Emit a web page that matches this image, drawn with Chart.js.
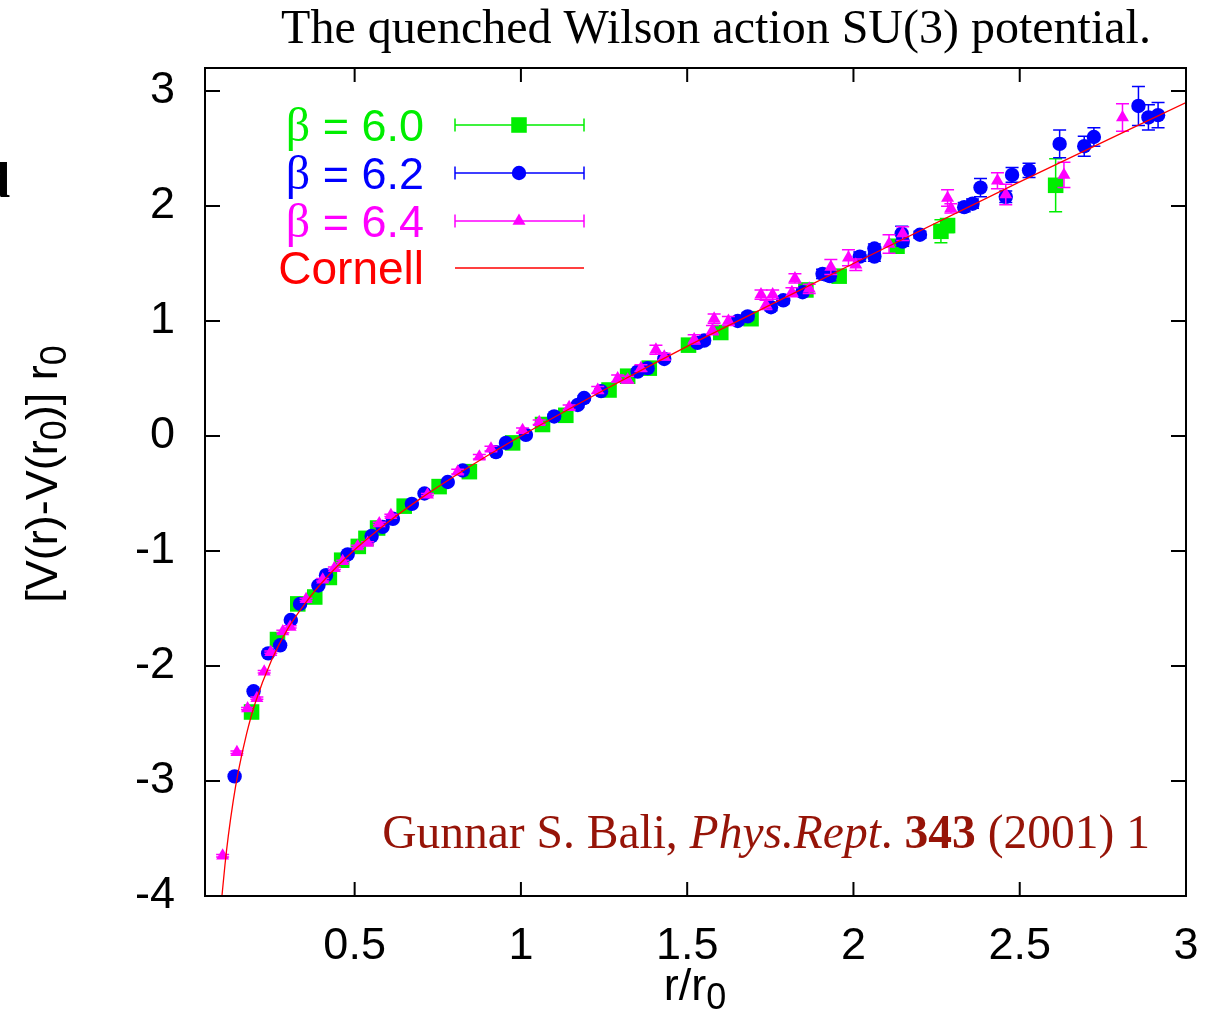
<!DOCTYPE html>
<html>
<head>
<meta charset="utf-8">
<title>Quenched Wilson action SU(3) potential</title>
<script src="https://cdn.jsdelivr.net/npm/chart.js@4.4.1/dist/chart.umd.min.js"></script>
<style>
    html, body { margin: 0; padding: 0; background: #fff; }
    #potentialChart { display: block; }
</style>
</head>
<body>
<canvas id="potentialChart" width="1206" height="1018"></canvas>
<script>
/* ================================
   STATIC POTENTIAL PLOT
   ================================ */

// Axis ticks
const xTicks = [0.5, 1, 1.5, 2, 2.5, 3];
const yTicks = [-4, -3, -2, -1, 0, 1, 2, 3];

// beta = 6.0 (squares)
const beta60R = [0.190, 0.268, 0.329, 0.380, 0.424, 0.461, 0.511, 0.534, 0.569, 0.649, 0.754, 0.845, 0.975,
    1.065, 1.135, 1.265, 1.321, 1.386, 1.504, 1.601, 1.692, 1.857, 1.957, 2.131, 2.263, 2.283, 2.608];
const beta60V = [-2.40, -1.77, -1.46, -1.40, -1.23, -1.08, -0.96, -0.89, -0.80, -0.61, -0.44, -0.31, -0.06,
    0.10, 0.18, 0.40, 0.52, 0.59, 0.79, 0.90, 1.02, 1.27, 1.39, 1.65, 1.78, 1.83, 2.18];
const beta60Err = [0.01, 0.01, 0.01, 0.01, 0.01, 0.01, 0.01, 0.01, 0.01, 0.01, 0.01, 0.01, 0.01,
    0.01, 0.02, 0.02, 0.02, 0.02, 0.03, 0.03, 0.03, 0.04, 0.04, 0.05, 0.10, 0.06, 0.23];

// beta = 6.2 (circles)
const beta62R = [0.139, 0.196, 0.240, 0.276, 0.308, 0.336, 0.391, 0.414, 0.479, 0.551, 0.584, 0.615, 0.672,
    0.710, 0.780, 0.825, 0.925, 0.955, 1.015, 1.100, 1.171, 1.190, 1.241, 1.351, 1.381, 1.431, 1.531,
    1.551, 1.652, 1.682, 1.752, 1.789, 1.847, 1.907, 1.929, 2.019, 2.063, 2.063, 2.145, 2.148, 2.200,
    2.333, 2.358, 2.382, 2.458, 2.477, 2.528, 2.620, 2.694, 2.723, 2.857, 2.887, 2.916];
const beta62V = [-2.96, -2.22, -1.89, -1.82, -1.60, -1.46, -1.30, -1.21, -1.03, -0.87, -0.79, -0.72, -0.59,
    -0.50, -0.40, -0.30, -0.14, -0.06, 0.01, 0.17, 0.27, 0.33, 0.39, 0.56, 0.59, 0.67, 0.81,
    0.83, 1.00, 1.04, 1.12, 1.18, 1.25, 1.41, 1.39, 1.56, 1.63, 1.56, 1.76, 1.69, 1.75,
    1.99, 2.02, 2.16, 2.08, 2.27, 2.31, 2.54, 2.52, 2.60, 2.87, 2.77, 2.79];
const beta62Err = [0.01, 0.01, 0.01, 0.01, 0.01, 0.01, 0.01, 0.01, 0.01, 0.01, 0.01, 0.01, 0.01,
    0.01, 0.01, 0.01, 0.01, 0.01, 0.01, 0.02, 0.02, 0.02, 0.02, 0.02, 0.02, 0.02, 0.03,
    0.03, 0.03, 0.03, 0.03, 0.03, 0.03, 0.04, 0.04, 0.04, 0.04, 0.04, 0.065, 0.04, 0.03,
    0.04, 0.04, 0.08, 0.05, 0.064, 0.062, 0.12, 0.087, 0.08, 0.17, 0.11, 0.11];

// beta = 6.4 (triangles)
const beta64R = [0.103, 0.146, 0.178, 0.206, 0.228, 0.248, 0.284, 0.306, 0.354, 0.404, 0.439, 0.464, 0.509,
    0.539, 0.574, 0.609, 0.719, 0.810, 0.875, 0.910, 1.005, 1.055, 1.145, 1.231, 1.291, 1.321, 1.361,
    1.406, 1.431, 1.521, 1.576, 1.581, 1.624, 1.722, 1.737, 1.757, 1.815, 1.824, 1.867, 1.932, 1.985,
    2.007, 2.107, 2.148, 2.283, 2.293, 2.433, 2.458, 2.633, 2.809];
const beta64V = [-3.65, -2.75, -2.37, -2.28, -2.05, -1.88, -1.70, -1.66, -1.42, -1.25, -1.15, -1.09, -0.96,
    -0.93, -0.76, -0.69, -0.51, -0.31, -0.18, -0.11, 0.05, 0.12, 0.25, 0.40, 0.50, 0.49, 0.59,
    0.75, 0.69, 0.84, 0.92, 1.02, 1.00, 1.23, 1.14, 1.23, 1.25, 1.37, 1.28, 1.47, 1.55,
    1.49, 1.67, 1.76, 2.07, 1.98, 2.22, 2.10, 2.27, 2.77];
const beta64Err = [0.01, 0.01, 0.01, 0.01, 0.01, 0.01, 0.01, 0.01, 0.01, 0.01, 0.01, 0.01, 0.01,
    0.01, 0.01, 0.01, 0.01, 0.02, 0.02, 0.02, 0.02, 0.02, 0.02, 0.03, 0.03, 0.03, 0.03,
    0.04, 0.03, 0.04, 0.04, 0.04, 0.04, 0.04, 0.04, 0.04, 0.04, 0.04, 0.04, 0.065, 0.07,
    0.05, 0.08, 0.06, 0.072, 0.04, 0.07, 0.09, 0.11, 0.12];

// Cornell fit curve
const cornellR = [0.10, 0.11, 0.12, 0.135, 0.15, 0.175, 0.20, 0.25, 0.30, 0.35, 0.40, 0.50, 0.60,
    0.70, 0.80, 0.90, 1.00, 1.25, 1.50, 1.75, 2.00, 2.50, 3.00];
const cornellV = [-4.03, -3.73, -3.48, -3.17, -2.92, -2.59, -2.33, -1.95, -1.67, -1.46, -1.28, -0.99, -0.75,
    -0.54, -0.35, -0.17, 0.00, 0.40, 0.78, 1.14, 1.50, 2.21, 2.90];

const legendLabels = ['6.0', '6.2', '6.4', 'Cornell'];

const SANS = '"Liberation Sans", Arial, Helvetica, sans-serif';
const SERIF = '"Liberation Serif", "Times New Roman", serif';
const GREEN = '#00ee00';
const BLUE = '#0000ff';
const MAGENTA = '#ff00ff';
const RED = '#ff0000';

function toPoints(xs, ys) {
    return xs.map((x, i) => ({ x: x, y: ys[i] }));
}

// Draw a run of text pieces with different fonts
function drawRich(ctx, parts, x, y, align) {
    let total = 0;
    parts.forEach(p => {
        ctx.font = p.font;
        p.w = ctx.measureText(p.text).width;
        total += p.w;
    });
    let cx = x;
    if (align === 'right') cx = x - total;
    if (align === 'center') cx = x - total / 2;
    ctx.textAlign = 'left';
    ctx.textBaseline = 'alphabetic';
    parts.forEach(p => {
        ctx.font = p.font;
        ctx.fillText(p.text, cx, y + (p.dy || 0));
        cx += p.w;
    });
}

// Vertical error bars under each dataset's markers
const errorBarPlugin = {
    id: 'errorBars',
    beforeDatasetDraw(chart, args) {
        const ds = chart.data.datasets[args.index];
        if (!ds.yErr) return;
        const { ctx, chartArea, scales: { x, y } } = chart;
        ctx.save();
        ctx.beginPath();
        ctx.rect(chartArea.left, chartArea.top, chartArea.right - chartArea.left, chartArea.bottom - chartArea.top);
        ctx.clip();
        ctx.strokeStyle = ds.borderColor;
        ctx.lineWidth = 1.5;
        ds.data.forEach((p, i) => {
            const px = x.getPixelForValue(p.x);
            const top = y.getPixelForValue(p.y + ds.yErr[i]);
            const bot = y.getPixelForValue(p.y - ds.yErr[i]);
            ctx.beginPath();
            ctx.moveTo(px, top); ctx.lineTo(px, bot);
            ctx.moveTo(px - 6.5, top); ctx.lineTo(px + 6.5, top);
            ctx.moveTo(px - 6.5, bot); ctx.lineTo(px + 6.5, bot);
            ctx.stroke();
        });
        ctx.restore();
    }
};

// Frame with inward ticks on all four sides
const framePlugin = {
    id: 'frame',
    afterDatasetsDraw(chart) {
        const { ctx, chartArea: a, scales: { x, y } } = chart;
        ctx.save();
        ctx.strokeStyle = '#000';
        ctx.lineWidth = 2;
        ctx.strokeRect(a.left, a.top, a.right - a.left, a.bottom - a.top);
        ctx.beginPath();
        xTicks.forEach(v => {
            const px = x.getPixelForValue(v);
            ctx.moveTo(px, a.bottom); ctx.lineTo(px, a.bottom - 14);
            ctx.moveTo(px, a.top); ctx.lineTo(px, a.top + 14);
        });
        yTicks.forEach(v => {
            const py = y.getPixelForValue(v);
            ctx.moveTo(a.left, py); ctx.lineTo(a.left + 15, py);
            ctx.moveTo(a.right, py); ctx.lineTo(a.right - 15, py);
        });
        ctx.stroke();
        ctx.restore();
    }
};

// Titles, key and citation
const textPlugin = {
    id: 'texts',
    afterDraw(chart) {
        const ctx = chart.ctx;
        ctx.save();

        // Title
        ctx.fillStyle = '#000';
        drawRich(ctx, [{ text: 'The quenched Wilson action SU(3) potential.', font: '48px ' + SERIF }], 716, 43, 'center');

        // Cut-off glyph at the left page edge
        drawRich(ctx, [{ text: 'd', font: 'bold 50px ' + SERIF }], 10, 197, 'right');

        // Axis titles
        drawRich(ctx, [
            { text: 'r/r', font: '45px ' + SANS },
            { text: '0', font: '36px ' + SANS, dy: 9 }
        ], 695, 1000, 'center');

        ctx.save();
        ctx.translate(57, 474);
        ctx.rotate(-Math.PI / 2);
        drawRich(ctx, [
            { text: '[V(r)-V(r', font: '45px ' + SANS },
            { text: '0', font: '36px ' + SANS, dy: 9 },
            { text: ')] r', font: '45px ' + SANS },
            { text: '0', font: '36px ' + SANS, dy: 9 }
        ], 0, 0, 'center');
        ctx.restore();

        // Key
        const rows = [125, 173, 221, 268];
        const colors = [GREEN, BLUE, MAGENTA, RED];
        const styles = ['rect', 'circle', 'triangle', null];
        const radii = [11, 7.2, 7.5, 0];
        const helpers = Chart.helpers;
        rows.forEach((ry, i) => {
            ctx.fillStyle = colors[i];
            ctx.strokeStyle = colors[i];
            if (styles[i]) {
                drawRich(ctx, [
                    { text: '\u03b2', font: '48px ' + SERIF },
                    { text: ' = ' + legendLabels[i], font: '45px ' + SANS }
                ], 424, ry + 16, 'right');
                ctx.lineWidth = 1.5;
                ctx.beginPath();
                ctx.moveTo(455, ry); ctx.lineTo(584, ry);
                ctx.moveTo(455, ry - 6.5); ctx.lineTo(455, ry + 6.5);
                ctx.moveTo(584, ry - 6.5); ctx.lineTo(584, ry + 6.5);
                ctx.stroke();
                helpers.drawPoint(ctx, { pointStyle: styles[i], radius: radii[i], borderWidth: 0, rotation: 0 }, 519, ry);
            } else {
                drawRich(ctx, [{ text: legendLabels[i], font: '46px ' + SANS }], 424, ry + 16, 'right');
                ctx.lineWidth = 1.3;
                ctx.beginPath();
                ctx.moveTo(455, ry); ctx.lineTo(584, ry);
                ctx.stroke();
            }
        });

        // Citation
        ctx.fillStyle = '#961408';
        drawRich(ctx, [
            { text: 'Gunnar S. Bali, ', font: '47.5px ' + SERIF },
            { text: 'Phys.Rept', font: 'italic 47.5px ' + SERIF },
            { text: '. ', font: '47.5px ' + SERIF },
            { text: '343', font: 'bold 47.5px ' + SERIF },
            { text: ' (2001) 1', font: '47.5px ' + SERIF }
        ], 1150, 848, 'right');

        ctx.restore();
    }
};

function markerSet(label, xs, ys, errs, color, style, radius, order) {
    return {
        label: label,
        data: toPoints(xs, ys),
        yErr: errs,
        pointStyle: style,
        pointRadius: radius,
        pointHoverRadius: radius,
        pointBorderWidth: 0,
        backgroundColor: color,
        borderColor: color,
        showLine: false,
        order: order
    };
}

document.addEventListener('DOMContentLoaded', function() {
    const ctx = document.getElementById('potentialChart');

    new Chart(ctx, {
        type: 'scatter',
        data: {
            datasets: [
                {
                    label: 'Cornell',
                    data: toPoints(cornellR, cornellV),
                    showLine: true,
                    borderColor: RED,
                    backgroundColor: RED,
                    borderWidth: 1.3,
                    pointRadius: 0,
                    pointHoverRadius: 0,
                    cubicInterpolationMode: 'monotone',
                    fill: false,
                    order: 0
                },
                markerSet('\u03b2 = 6.4', beta64R, beta64V, beta64Err, MAGENTA, 'triangle', 7.5, 1),
                markerSet('\u03b2 = 6.2', beta62R, beta62V, beta62Err, BLUE, 'circle', 7.2, 2),
                markerSet('\u03b2 = 6.0', beta60R, beta60V, beta60Err, GREEN, 'rect', 11, 3)
            ]
        },
        options: {
            responsive: false,
            animation: false,
            devicePixelRatio: 1,
            layout: {
                padding: { top: 68, right: 20, bottom: 0, left: 0 }
            },
            plugins: {
                legend: { display: false },
                tooltip: { enabled: false },
                title: { display: false }
            },
            scales: {
                x: {
                    type: 'linear',
                    position: 'bottom',
                    min: 0.05,
                    max: 3,
                    grid: { display: false, drawTicks: false },
                    border: { display: false },
                    ticks: {
                        color: '#000',
                        padding: 24,
                        maxRotation: 0,
                        font: { family: SANS, size: 45 },
                        callback: v => String(v)
                    },
                    afterBuildTicks: axis => { axis.ticks = xTicks.map(v => ({ value: v })); },
                    afterFit: axis => {
                        axis.height = 122;
                        axis.paddingLeft = 0;
                        axis.paddingRight = 0;
                    }
                },
                y: {
                    type: 'linear',
                    min: -4,
                    max: 3.2,
                    grid: { display: false, drawTicks: false },
                    border: { display: false },
                    ticks: {
                        color: '#000',
                        padding: 30,
                        font: { family: SANS, size: 45 },
                        callback: v => String(v)
                    },
                    afterBuildTicks: axis => { axis.ticks = yTicks.map(v => ({ value: v })); },
                    afterFit: axis => { axis.width = 205; }
                }
            }
        },
        plugins: [errorBarPlugin, framePlugin, textPlugin]
    });
});
</script>
</body>
</html>
